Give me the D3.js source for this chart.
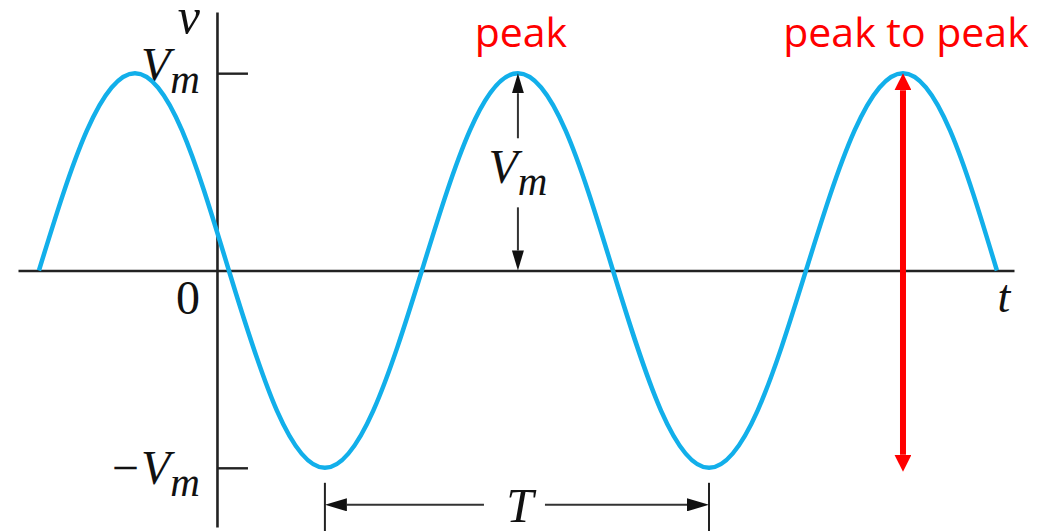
<!DOCTYPE html>
<html>
<head>
<meta charset="utf-8">
<script src="https://cdn.jsdelivr.net/npm/d3@7"></script>
<style>
  body { margin: 0; background: #fff; }
  .math { font-family: 'Liberation Serif', 'DejaVu Serif', serif; font-style: italic; fill: #111; }
  .note { font-family: 'Open Sans', sans-serif; fill: #ff0000; }
</style>
</head>
<body>
<svg id="chart"></svg>
<script>
// wave samples: time in ms, voltage in units of Vm
const timeMs = [-9.27, -6.77, -4.27, -1.82, 0.62, 3.12, 5.62, 8.14, 10.67, 13.17, 15.67,
  18.15, 20.62, 23.12, 25.62, 28.15, 30.67, 33.2, 35.72, 38.17, 40.61];
const volts = [0, 0.71, 1, 0.71, 0, -0.71, -1, -0.71, 0, 0.71, 1,
  0.71, 0, -0.71, -1, -0.71, 0, 0.71, 1, 0.71, 0];

// troughs that bound one period T
const periodEnds = [5.62, 25.62];
// peaks that carry the red notes
const peakTimes = [15.67, 35.72];
const peakNotes = ['peak', 'peak to peak'];

const yTickValues = [1, -1];
const yTickLabels = [['V', 'm'], ['\u2212V', 'm']];

const tDomain = [-10.36, 41.5];
const vDomain = [-1.3, 1.31];

const width = 1058;
const height = 531;

const svg = d3.select('#chart')
  .attr('width', width)
  .attr('height', height);

const x = d3.scaleLinear().domain(tDomain).range([18, 1014]);
const y = d3.scaleLinear().domain(vDomain).range([527, 12]);

// arrow heads: base sits at the line end, tip points outwards
const defs = svg.append('defs');
function addHead(id, len, wid, color) {
  defs.append('marker')
    .attr('id', id)
    .attr('viewBox', `0 ${-wid / 2} ${len} ${wid}`)
    .attr('refX', 0)
    .attr('refY', 0)
    .attr('markerUnits', 'userSpaceOnUse')
    .attr('markerWidth', len)
    .attr('markerHeight', wid)
    .attr('orient', 'auto-start-reverse')
    .append('path')
    .attr('d', `M0,${-wid / 2}L${len},0L0,${wid / 2}Z`)
    .attr('fill', color);
}
addHead('head-vm', 20, 12, '#111');
addHead('head-t', 22, 13, '#111');
addHead('head-red', 17, 17, '#ff0000');

// horizontal t axis
const xAxisG = svg.append('g')
  .attr('transform', `translate(0,${y(0)})`)
  .call(d3.axisBottom(x).tickValues([]).tickSizeOuter(0));
xAxisG.select('.domain').attr('stroke', '#222').attr('stroke-width', 2.6);

// vertical v axis, ticks point right, labels sit left
const yAxisG = svg.append('g')
  .attr('transform', `translate(${x(0)},0)`)
  .call(d3.axisLeft(y).tickValues(yTickValues).tickSize(-31).tickSizeOuter(0).tickPadding(17));
yAxisG.select('.domain').attr('stroke', '#222').attr('stroke-width', 2.6);
yAxisG.selectAll('.tick line').attr('stroke', '#222').attr('stroke-width', 2.4);
yAxisG.selectAll('.tick text')
  .attr('class', 'math')
  .attr('dy', (d) => (d > 0 ? 7 : 16))
  .attr('font-size', null)
  .text(null)
  .each(function (d, i) {
    const t = d3.select(this);
    t.append('tspan').style('font-size', '48px').text(yTickLabels[i][0]);
    t.append('tspan').style('font-size', '41px').attr('dy', 12).text(yTickLabels[i][1]);
  });

svg.append('text')
  .attr('class', 'math')
  .attr('x', x(0) - 17)
  .attr('y', 33)
  .attr('text-anchor', 'end')
  .style('font-size', '50px')
  .text('v');

svg.append('text')
  .attr('class', 'math')
  .attr('x', x(0) - 17)
  .attr('y', y(0) + 44)
  .attr('text-anchor', 'end')
  .style('font-style', 'normal')
  .style('font-size', '48px')
  .text('0');

svg.append('text')
  .attr('class', 'math')
  .attr('x', 1004)
  .attr('y', y(0) + 42)
  .attr('text-anchor', 'middle')
  .style('font-size', '46px')
  .text('t');

// the wave
const wave = timeMs.map((t, i) => ({ t, v: volts[i] }));
const line = d3.line()
  .x((d) => x(d.t))
  .y((d) => y(d.v))
  .curve(d3.curveNatural);

svg.append('path')
  .datum(wave)
  .attr('d', line)
  .attr('fill', 'none')
  .attr('stroke', '#12afea')
  .attr('stroke-width', 4.5);

// Vm amplitude marker at the middle peak
const px = x(peakTimes[0]);
svg.append('line')
  .attr('x1', px).attr('x2', px)
  .attr('y1', y(0.67)).attr('y2', y(1) + 20)
  .attr('stroke', '#333').attr('stroke-width', 2)
  .attr('marker-end', 'url(#head-vm)');
svg.append('line')
  .attr('x1', px).attr('x2', px)
  .attr('y1', y(0.32)).attr('y2', y(0) - 20)
  .attr('stroke', '#333').attr('stroke-width', 2)
  .attr('marker-end', 'url(#head-vm)');
const vmLabel = svg.append('text')
  .attr('class', 'math')
  .attr('x', px)
  .attr('y', 183)
  .attr('text-anchor', 'middle');
vmLabel.append('tspan').style('font-size', '48px').text('V');
vmLabel.append('tspan').style('font-size', '41px').attr('dy', 12).text('m');

// period dimension T
const dimY = y(-1) + 37;
svg.selectAll('.period-tick')
  .data(periodEnds)
  .join('line')
  .attr('class', 'period-tick')
  .attr('x1', (d) => x(d)).attr('x2', (d) => x(d))
  .attr('y1', y(-1) + 15).attr('y2', height)
  .attr('stroke', '#222').attr('stroke-width', 2);
const tMid = (x(periodEnds[0]) + x(periodEnds[1])) / 2;
svg.append('line')
  .attr('x1', tMid - 33).attr('x2', x(periodEnds[0]) + 22)
  .attr('y1', dimY).attr('y2', dimY)
  .attr('stroke', '#333').attr('stroke-width', 2)
  .attr('marker-end', 'url(#head-t)');
svg.append('line')
  .attr('x1', tMid + 28).attr('x2', x(periodEnds[1]) - 22)
  .attr('y1', dimY).attr('y2', dimY)
  .attr('stroke', '#333').attr('stroke-width', 2)
  .attr('marker-end', 'url(#head-t)');
svg.append('text')
  .attr('class', 'math')
  .attr('x', tMid + 3)
  .attr('y', dimY + 17)
  .attr('text-anchor', 'middle')
  .style('font-size', '49px')
  .text('T');

// red peak-to-peak arrow
const rx = x(peakTimes[1]);
svg.append('line')
  .attr('x1', rx).attr('x2', rx)
  .attr('y1', y(1) + 17).attr('y2', y(-1) + 4 - 17)
  .attr('stroke', '#ff0000').attr('stroke-width', 6)
  .attr('marker-start', 'url(#head-red)')
  .attr('marker-end', 'url(#head-red)');

svg.selectAll('.note')
  .data(peakTimes)
  .join('text')
  .attr('class', 'note')
  .attr('x', (d) => x(d) + 3)
  .attr('y', 47)
  .attr('text-anchor', 'middle')
  .style('font-size', '41px')
  .text((d, i) => peakNotes[i]);
</script>
</body>
</html>
